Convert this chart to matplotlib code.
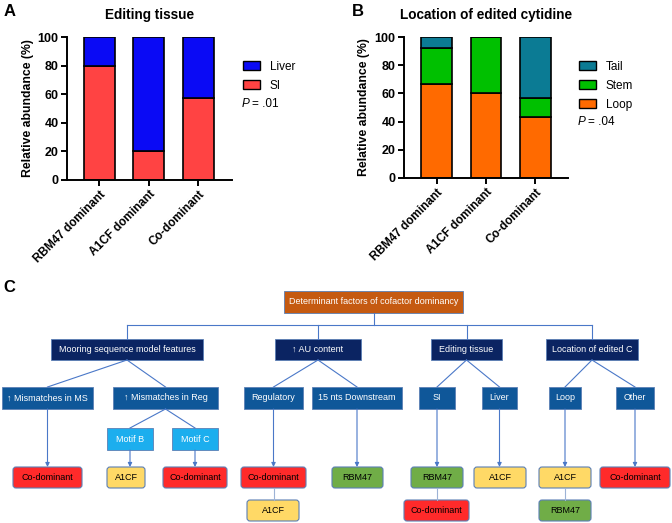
"""
Cofactor dominancy: stacked bars (A, B) and decision tree of determinant factors (C).
"""

import numpy as np
import matplotlib.pyplot as plt
from matplotlib.patches import Patch, Rectangle, FancyBboxPatch

plt.rcParams['font.family'] = ['Liberation Sans', 'DejaVu Sans']

# --- data -------------------------------------------------------------------
groups = ['RBM47 dominant', 'A1CF dominant', 'Co-dominant']

# panel A: editing tissue (%)
si_pct = [80, 20, 57]
liver_pct = [20, 80, 43]
p_tissue = '= .01'

# panel B: location of edited cytidine (%)
loop_pct = [67, 60, 43]
stem_pct = [25, 40, 14]
tail_pct = [8, 0, 43]
p_location = '= .04'

# panel C: tree nodes (label, level)
root_label = 'Determinant factors of cofactor dominancy'
level1_labels = ['Mooring sequence model features', '\u2191 AU content',
                 'Editing tissue', 'Location of edited C']
level2_labels = ['\u2191 Mismatches in MS', '\u2191 Mismatches in Reg', 'Regulatory',
                 '15 nts Downstream', 'SI', 'Liver', 'Loop', 'Other']
level2_parent = [0, 0, 1, 1, 2, 2, 3, 3]
level3_labels = ['Motif B', 'Motif C']
# outcome boxes: label, kind
outcome_labels = ['Co-dominant', 'A1CF', 'Co-dominant', 'Co-dominant', 'RBM47',
                  'RBM47', 'A1CF', 'A1CF', 'Co-dominant']
outcome_kind = ['co', 'a1cf', 'co', 'co', 'rbm', 'rbm', 'a1cf', 'a1cf', 'co']
second_labels = ['A1CF', 'Co-dominant', 'RBM47']
second_kind = ['a1cf', 'co', 'rbm']

# --- layout (pixels on a 672 x 523 canvas) -----------------------------------
W, H = 672, 523
fig = plt.figure(figsize=(W / 100, H / 100), dpi=100)


def px_axes(left, top, right, bottom):
    return fig.add_axes([left / W, 1 - bottom / H, (right - left) / W, (bottom - top) / H])


def style_bar_axes(ax, xlim):
    ax.set_xlim(*xlim)
    ax.set_ylim(0, 100)
    ax.set_yticks(np.arange(0, 101, 20))
    ax.set_xticks(range(len(groups)))
    ax.set_xticklabels(groups, rotation=45, ha='right', rotation_mode='anchor',
                       fontsize=8.5, fontweight='bold')
    for lab in ax.get_yticklabels():
        lab.set_fontweight('bold')
        lab.set_fontsize(9)
    ax.spines['top'].set_visible(False)
    ax.spines['right'].set_visible(False)
    for s in ('left', 'bottom'):
        ax.spines[s].set_linewidth(1.4)
    ax.tick_params(width=1.4, length=4, pad=2)
    ax.set_ylabel('Relative abundance (%)', fontsize=8.8, fontweight='bold', labelpad=3)


x = np.arange(len(groups))
bar_kw = dict(width=0.63, edgecolor='black', linewidth=1.2)

# Panel A
axA = px_axes(67, 37, 232, 180)
axA.bar(x, si_pct, color='#FF4343', **bar_kw)
axA.bar(x, liver_pct, bottom=si_pct, color='#0A0AF5', **bar_kw)
style_bar_axes(axA, (-0.65, 2.68))
axA.set_title('Editing tissue', fontsize=9.8, fontweight='bold', pad=13)
axA.legend(handles=[Patch(facecolor='#0A0AF5', edgecolor='black', label='Liver'),
                    Patch(facecolor='#FF4343', edgecolor='black', label='SI')],
           loc='upper left', bbox_to_anchor=(238 / W, 1 - 56 / H),
           bbox_transform=fig.transFigure, frameon=False, fontsize=8.5,
           handlelength=1.5, handleheight=0.8, labelspacing=0.6, borderaxespad=0)
fig.text(242 / W, 1 - 104 / H, 'P', style='italic', fontsize=8.5, va='center')
fig.text(252 / W, 1 - 104 / H, p_tissue, fontsize=8.5, va='center')
fig.text(4 / W, 1 - 11 / H, 'A', fontsize=12, fontweight='bold', va='center')

# Panel B
axB = px_axes(404, 37, 568, 178)
loop_top = np.array(loop_pct) + np.array(stem_pct)
axB.bar(x, loop_pct, color='#FF6A00', **bar_kw)
axB.bar(x, stem_pct, bottom=loop_pct, color='#00C000', **bar_kw)
axB.bar(x, tail_pct, bottom=loop_top, color='#0B7B94', **bar_kw)
style_bar_axes(axB, (-0.67, 2.67))
axB.set_title('Location of edited cytidine', fontsize=9.8, fontweight='bold', pad=13)
axB.legend(handles=[Patch(facecolor='#0B7B94', edgecolor='black', label='Tail'),
                    Patch(facecolor='#00C000', edgecolor='black', label='Stem'),
                    Patch(facecolor='#FF6A00', edgecolor='black', label='Loop')],
           loc='upper left', bbox_to_anchor=(574 / W, 1 - 56 / H),
           bbox_transform=fig.transFigure, frameon=False, fontsize=8.5,
           handlelength=1.5, handleheight=0.8, labelspacing=0.6, borderaxespad=0)
fig.text(578 / W, 1 - 122 / H, 'P', style='italic', fontsize=8.5, va='center')
fig.text(588 / W, 1 - 122 / H, p_location, fontsize=8.5, va='center')
fig.text(352 / W, 1 - 11 / H, 'B', fontsize=12, fontweight='bold', va='center')

# Panel C: decision tree
axC = fig.add_axes([0, 0, 1, 1 - 280 / H])
axC.set_xlim(0, W)
axC.set_ylim(H, 280)
axC.axis('off')
fig.text(3 / W, 1 - 288 / H, 'C', fontsize=12, fontweight='bold', va='center')

line_col = '#4A78C8'
fill = {'root': '#C55A11', 'l1': '#0B2462', 'l2': '#0F5799', 'l3': '#1CAEEE',
        'co': '#FF2A2A', 'a1cf': '#FFD966', 'rbm': '#70AD47'}


def box(x0, x1, y0, y1, text, kind, rounded=False):
    if rounded:
        p = FancyBboxPatch((x0, y0), x1 - x0, y1 - y0, boxstyle='round,pad=0,rounding_size=3',
                           facecolor=fill[kind], edgecolor='#5B7FB5', linewidth=0.8)
        tcol = 'black'
    else:
        p = Rectangle((x0, y0), x1 - x0, y1 - y0, facecolor=fill[kind],
                      edgecolor='#5B7FB5', linewidth=0.6)
        tcol = 'white'
    axC.add_patch(p)
    axC.text((x0 + x1) / 2, (y0 + y1) / 2, text, color=tcol, fontsize=6.5,
             ha='center', va='center', zorder=5)


def link(xa, ya, xb, yb, arrow=False, col=line_col):
    if arrow:
        axC.annotate('', xy=(xb, yb), xytext=(xa, ya),
                     arrowprops=dict(arrowstyle='-|>', color=col, lw=0.8,
                                     mutation_scale=6, shrinkA=0, shrinkB=0))
    else:
        axC.plot([xa, xb], [ya, yb], color=col, lw=0.8)


# root
root_x = (284, 463)
root_y = (291, 313)
box(*root_x, *root_y, root_label, 'root')

# level 1
l1_x = [(51, 203), (275, 361), (431, 502), (546, 638)]
l1_y = (339, 360)
bus_y = 325
l1_c = [(a + b) / 2 for a, b in l1_x]
link((root_x[0] + root_x[1]) / 2, root_y[1], (root_x[0] + root_x[1]) / 2, bus_y)
link(l1_c[0], bus_y, l1_c[-1], bus_y)
for (a, b), lab, c in zip(l1_x, level1_labels, l1_c):
    link(c, bus_y, c, l1_y[0])
    box(a, b, *l1_y, lab, 'l1')

# level 2
l2_x = [(2, 93), (113, 218), (244, 303), (312, 402), (419, 455), (482, 517),
        (549, 581), (616, 654)]
l2_y = (387, 409)
l2_c = [(a + b) / 2 for a, b in l2_x]
for (a, b), lab, par, c in zip(l2_x, level2_labels, level2_parent, l2_c):
    link(l1_c[par], l1_y[1], c, l2_y[0])
    box(a, b, *l2_y, lab, 'l2')

# level 3 (children of "Mismatches in Reg")
l3_x = [(107, 153), (172, 218)]
l3_y = (428, 450)
l3_c = [(a + b) / 2 for a, b in l3_x]
for (a, b), lab, c in zip(l3_x, level3_labels, l3_c):
    link(l2_c[1], l2_y[1], c, l3_y[0])
    box(a, b, *l3_y, lab, 'l3')

# outcomes
out_x = [(13, 82), (107, 145), (163, 227), (241, 306), (332, 383), (411, 463),
         (474, 526), (539, 591), (600, 670)]
out_src = [(l2_c[0], l2_y[1]), (l3_c[0], l3_y[1]), (l3_c[1], l3_y[1]),
           (l2_c[2], l2_y[1]), (l2_c[3], l2_y[1]), (l2_c[4], l2_y[1]),
           (l2_c[5], l2_y[1]), (l2_c[6], l2_y[1]), (l2_c[7], l2_y[1])]
out_y = (467, 488)
for (a, b), lab, kind, (sx, sy) in zip(out_x, outcome_labels, outcome_kind, out_src):
    link(sx, sy, sx, out_y[0], arrow=True)
    box(a, b, *out_y, lab, kind, rounded=True)

# second-row outcomes hanging below Regulatory, SI and Loop
sec_x = [(247, 299), (404, 469), (539, 591)]
sec_parent = [3, 5, 7]
sec_y = (500, 521)
for (a, b), lab, kind, par in zip(sec_x, second_labels, second_kind, sec_parent):
    cx = (out_x[par][0] + out_x[par][1]) / 2
    link(cx, out_y[1], cx, sec_y[0], col='#9DB3D6')
    box(a, b, *sec_y, lab, kind, rounded=True)

fig.savefig('out.png', dpi=100)
